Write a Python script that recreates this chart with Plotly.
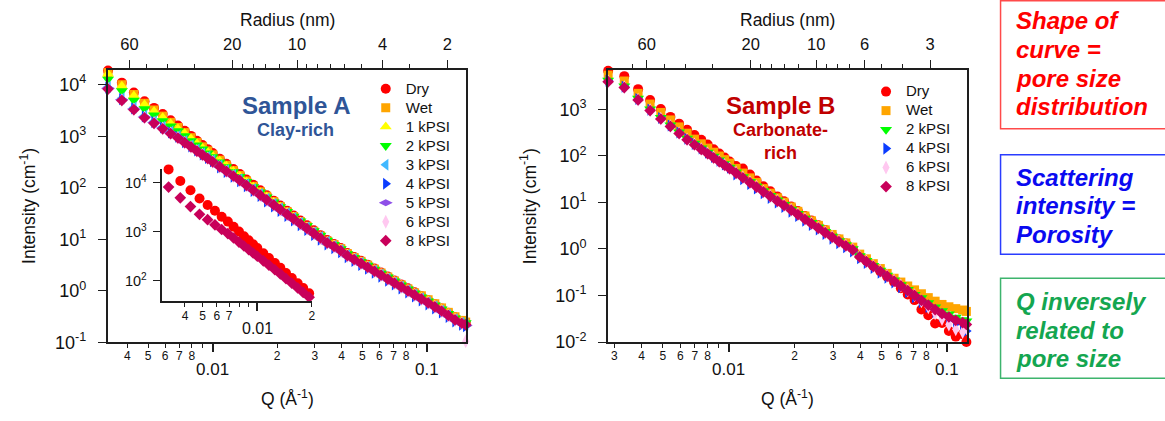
import numpy as np
import plotly.graph_objects as go

W, H = 1165, 421

# ---------------- data ----------------
# Sample A (clay-rich): Q in 1/Angstrom, values are log10 of intensity (1/cm)
q_a = [0.00325, 0.00377, 0.00429, 0.00481, 0.00533, 0.00585, 0.00637, 0.00689, 0.00741, 0.00793,
       0.00845, 0.00897, 0.00949, 0.01001,
       0.0108, 0.0116, 0.0125, 0.0134, 0.0144, 0.0155, 0.0167, 0.0179, 0.0193, 0.0207,
       0.0223, 0.0239, 0.0257, 0.0276, 0.0297, 0.0319, 0.0343, 0.0369, 0.0397, 0.0426,
       0.0458, 0.0493, 0.053, 0.057, 0.0612, 0.0658, 0.0707, 0.076, 0.0817, 0.0878,
       0.0944, 0.1015, 0.1091, 0.1173, 0.1261, 0.1355, 0.1457, 0.152]

a_dry = [4.275, 4.040, 3.850, 3.680, 3.550, 3.430, 3.310, 3.210, 3.106, 3.007, 2.913, 2.829, 2.750, 2.674,
         2.565, 2.466, 2.364, 2.268, 2.162, 2.058, 1.952, 1.855, 1.750, 1.655, 1.555, 1.462, 1.364, 1.271,
         1.174, 1.081, 0.986, 0.910, 0.830, 0.733, 0.658, 0.583, 0.508, 0.432, 0.356, 0.279, 0.202, 0.125,
         0.048, -0.029, -0.106, -0.183, -0.260, -0.341, -0.427, -0.513, -0.584, -0.616]
a_wet = [4.235, 4.000, 3.810, 3.640, 3.510, 3.390, 3.270, 3.170, 3.071, 2.972, 2.878, 2.794, 2.715, 2.639,
         2.535, 2.436, 2.334, 2.238, 2.132, 2.028, 1.922, 1.835, 1.730, 1.635, 1.535, 1.442, 1.344, 1.251,
         1.154, 1.061, 0.966, 0.900, 0.820, 0.723, 0.648, 0.573, 0.498, 0.422, 0.346, 0.269, 0.192, 0.115,
         0.038, -0.039, -0.096, -0.173, -0.250, -0.331, -0.417, -0.503, -0.574, -0.606]
a_1k = [4.210, 3.975, 3.785, 3.615, 3.485, 3.365, 3.245, 3.145, 3.051, 2.952, 2.858, 2.774, 2.695, 2.619,
        2.520, 2.421, 2.319, 2.223, 2.117, 2.013, 1.907, 1.825, 1.720, 1.625, 1.525, 1.432, 1.334, 1.241,
        1.144, 1.051, 0.956, 0.890, 0.810, 0.713, 0.638, 0.563, 0.488, 0.412, 0.336, 0.259, 0.182, 0.105,
        0.028, -0.049, -0.126, -0.203, -0.280, -0.361, -0.447, -0.533, -0.604, -0.636]
a_2k = [4.105, 3.880, 3.696, 3.529, 3.410, 3.299, 3.194, 3.106, 3.006, 2.912, 2.828, 2.749, 2.670, 2.599,
        2.500, 2.406, 2.309, 2.218, 2.117, 2.018, 1.917, 1.817, 1.720, 1.630, 1.535, 1.446, 1.352, 1.261,
        1.166, 1.075, 0.981, 0.895, 0.815, 0.718, 0.643, 0.568, 0.493, 0.417, 0.341, 0.264, 0.187, 0.110,
        0.033, -0.044, -0.121, -0.198, -0.275, -0.356, -0.442, -0.528, -0.594, -0.621]
a_3k = [3.955, 3.735, 3.556, 3.399, 3.290, 3.184, 3.089, 3.006, 2.906, 2.822, 2.743, 2.669, 2.600, 2.534,
        2.430, 2.341, 2.249, 2.163, 2.067, 1.973, 1.877, 1.787, 1.690, 1.600, 1.505, 1.416, 1.322, 1.231,
        1.136, 1.045, 0.951, 0.870, 0.790, 0.693, 0.618, 0.543, 0.468, 0.392, 0.316, 0.239, 0.162, 0.085,
        0.008, -0.069, -0.146, -0.223, -0.300, -0.381, -0.467, -0.553, -0.619, -0.646]
a_4k = [3.940, 3.720, 3.541, 3.384, 3.275, 3.169, 3.074, 2.991, 2.886, 2.802, 2.723, 2.649, 2.580, 2.514,
        2.395, 2.306, 2.214, 2.128, 2.032, 1.938, 1.842, 1.737, 1.640, 1.550, 1.455, 1.366, 1.272, 1.181,
        1.086, 0.995, 0.901, 0.830, 0.750, 0.653, 0.578, 0.503, 0.428, 0.352, 0.276, 0.199, 0.122, 0.045,
        -0.032, -0.109, -0.186, -0.263, -0.340, -0.421, -0.507, -0.593, -0.659, -0.686]
a_5k = [3.930, 3.710, 3.531, 3.374, 3.265, 3.159, 3.064, 2.981, 2.881, 2.797, 2.718, 2.644, 2.575, 2.509,
        2.405, 2.316, 2.224, 2.138, 2.042, 1.948, 1.852, 1.752, 1.655, 1.565, 1.470, 1.381, 1.287, 1.196,
        1.101, 1.010, 0.916, 0.845, 0.765, 0.668, 0.593, 0.518, 0.443, 0.367, 0.291, 0.214, 0.137, 0.060,
        -0.017, -0.094, -0.171, -0.248, -0.325, -0.406, -0.492, -0.578, -0.644, -0.671]
a_6k = [3.920, 3.700, 3.521, 3.364, 3.255, 3.149, 3.054, 2.971, 2.876, 2.792, 2.713, 2.639, 2.570, 2.504,
        2.405, 2.316, 2.224, 2.138, 2.042, 1.948, 1.852, 1.762, 1.665, 1.575, 1.480, 1.391, 1.297, 1.206,
        1.111, 1.020, 0.926, 0.855, 0.775, 0.678, 0.603, 0.528, 0.453, 0.377, 0.301, 0.224, 0.147, 0.070,
        -0.007, -0.084, -0.161, -0.238, -0.315, -0.396, -0.482, -0.568, -0.634, -0.980]
a_8k = [3.915, 3.695, 3.516, 3.359, 3.250, 3.144, 3.049, 2.966, 2.876, 2.792, 2.713, 2.639, 2.570, 2.504,
        2.410, 2.321, 2.229, 2.143, 2.047, 1.953, 1.857, 1.767, 1.670, 1.580, 1.485, 1.396, 1.302, 1.211,
        1.116, 1.025, 0.931, 0.860, 0.780, 0.683, 0.608, 0.533, 0.458, 0.382, 0.306, 0.229, 0.152, 0.075,
        -0.002, -0.079, -0.156, -0.233, -0.310, -0.391, -0.477, -0.563, -0.629, -0.656]

# Sample B (carbonate-rich)
q_b = [0.00281, 0.00333, 0.00385, 0.00437, 0.00489, 0.00541, 0.00593, 0.00645, 0.00697, 0.00749,
       0.00801, 0.00853, 0.00905, 0.00957, 0.01009,
       0.0108, 0.0116, 0.0125, 0.0134, 0.0144, 0.0155, 0.0167, 0.0179, 0.0193, 0.0207,
       0.0223, 0.0239, 0.0257, 0.0276, 0.0297, 0.0319, 0.0343, 0.0369, 0.0397, 0.0426,
       0.0458, 0.0493, 0.053, 0.057, 0.0612, 0.0658, 0.0707, 0.076, 0.0817, 0.0878,
       0.0944, 0.1015, 0.1091, 0.1173, 0.122]

b_dry = [3.826, 3.709, 3.430, 3.195, 3.005, 2.835, 2.690, 2.560, 2.445, 2.342, 2.244, 2.142, 2.050, 1.962, 1.878,
         1.779, 1.729, 1.596, 1.469, 1.346, 1.237, 1.127, 1.023, 0.912, 0.813, 0.708, 0.609, 0.507, 0.406, 0.302,
         0.206, 0.120, 0.020, -0.140, -0.251, -0.365, -0.480, -0.594, -0.708, -0.840, -0.974, -1.097, -1.300,
         -1.420, -1.600, -1.590, -1.760, -1.880, -1.830, -1.995]
b_wet = [3.730, 3.605, 3.340, 3.110, 2.930, 2.770, 2.620, 2.485, 2.357, 2.257, 2.164, 2.077, 1.995, 1.917, 1.843,
         1.729, 1.629, 1.526, 1.429, 1.296, 1.197, 1.097, 1.003, 0.902, 0.808, 0.708, 0.604, 0.507, 0.411, 0.312,
         0.216, 0.130, 0.040, -0.110, -0.211, -0.315, -0.420, -0.524, -0.628, -0.710, -0.794, -0.877, -0.961,
         -1.044, -1.120, -1.190, -1.240, -1.280, -1.310, -1.340]
b_2k = [3.620, 3.495, 3.230, 3.000, 2.820, 2.660, 2.510, 2.375, 2.267, 2.167, 2.074, 1.987, 1.905, 1.827, 1.753,
        1.649, 1.549, 1.446, 1.349, 1.246, 1.147, 1.047, 0.953, 0.852, 0.758, 0.658, 0.564, 0.467, 0.371, 0.272,
        0.176, 0.090, 0.000, -0.150, -0.251, -0.355, -0.460, -0.564, -0.668, -0.770, -0.874, -0.977, -1.051,
        -1.154, -1.250, -1.330, -1.400, -1.470, -1.520, -1.550]
b_4k = [3.610, 3.485, 3.220, 2.990, 2.810, 2.650, 2.500, 2.365, 2.257, 2.157, 2.064, 1.977, 1.895, 1.817, 1.743,
        1.599, 1.499, 1.396, 1.299, 1.196, 1.097, 0.997, 0.903, 0.802, 0.708, 0.608, 0.514, 0.417, 0.321, 0.222,
        0.126, 0.040, -0.050, -0.200, -0.301, -0.405, -0.510, -0.614, -0.718, -0.820, -0.924, -1.037, -1.141,
        -1.244, -1.350, -1.440, -1.520, -1.600, -1.680, -1.760]
b_6k = [3.595, 3.470, 3.205, 2.975, 2.795, 2.635, 2.485, 2.350, 2.242, 2.142, 2.049, 1.962, 1.880, 1.802, 1.728,
        1.634, 1.534, 1.431, 1.334, 1.231, 1.132, 1.032, 0.938, 0.837, 0.743, 0.643, 0.549, 0.452, 0.356, 0.257,
        0.161, 0.075, -0.015, -0.165, -0.266, -0.370, -0.475, -0.579, -0.683, -0.785, -0.889, -0.992, -1.120,
        -1.250, -1.380, -1.500, -1.620, -1.720, -1.780, -1.700]
b_8k = [3.590, 3.465, 3.200, 2.970, 2.790, 2.630, 2.480, 2.345, 2.237, 2.137, 2.044, 1.957, 1.875, 1.797, 1.723,
        1.629, 1.529, 1.426, 1.329, 1.226, 1.127, 1.027, 0.933, 0.832, 0.738, 0.638, 0.544, 0.447, 0.351, 0.252,
        0.156, 0.070, -0.020, -0.170, -0.271, -0.375, -0.480, -0.584, -0.688, -0.790, -0.894, -0.997, -1.101,
        -1.204, -1.300, -1.390, -1.460, -1.530, -1.580, -1.620]

inset_count = 23          # sample A points repeated in the inset (Q < 0.02)
radius_nm_times_q = 0.25  # radius (nm) = 0.25 / Q (1/Angstrom), for the top axes

# tick labels
y_a_ticks = [0.1, 1, 10, 100, 1000, 10000]
y_a_text = ["10<sup>-1</sup>", "10<sup>0</sup>", "10<sup>1</sup>", "10<sup>2</sup>", "10<sup>3</sup>", "10<sup>4</sup>"]
y_b_ticks = [0.01, 0.1, 1, 10, 100, 1000]
y_b_text = ["10<sup>-2</sup>", "10<sup>-1</sup>", "10<sup>0</sup>", "10<sup>1</sup>", "10<sup>2</sup>", "10<sup>3</sup>"]
y_in_ticks = [100, 1000, 10000]
y_in_text = ["10<sup>2</sup>", "10<sup>3</sup>", "10<sup>4</sup>"]

qa_ticks = [0.004, 0.005, 0.006, 0.007, 0.008, 0.009, 0.02, 0.03, 0.04, 0.05, 0.06, 0.07, 0.08, 0.09]
qa_text = ["4", "5", "6", "7", "8", "", "2", "3", "4", "5", "6", "7", "8", ""]
qb_ticks = [0.003, 0.004, 0.005, 0.006, 0.007, 0.008, 0.009, 0.02, 0.03, 0.04, 0.05, 0.06, 0.07, 0.08, 0.09]
qb_text = ["3", "4", "5", "6", "7", "8", "", "2", "3", "4", "5", "6", "7", "8", ""]
qin_ticks = [0.004, 0.005, 0.006, 0.007, 0.008, 0.009, 0.02]
qin_text = ["4", "5", "6", "7", "", "", "2"]
q_major = [0.01, 0.1]
q_major_text = ["0.01", "0.1"]

ra_ticks = [60, 20, 10, 4, 2]
ra_minor = [50, 40, 30, 18, 16, 14, 12, 9, 8, 7, 6, 5, 3]
rb_ticks = [60, 20, 10, 6, 3]
rb_minor = [70, 50, 40, 30, 18, 16, 14, 12, 9, 8, 7, 5, 4]

# ---------------- styling ----------------
FONT = "Liberation Sans, Arial, sans-serif"
AXC = "#1e1e1e"

styles = {
    "Dry": dict(symbol="circle", color="#FF0000", size=10),
    "Wet": dict(symbol="square", color="#FFA500", size=9),
    "1 kPSI": dict(symbol="triangle-up", color="#FFFF00", size=10.5),
    "2 kPSI": dict(symbol="triangle-down", color="#00FF00", size=10.5),
    "3 kPSI": dict(symbol="triangle-left", color="#40B8FF", size=10.5),
    "4 kPSI": dict(symbol="triangle-right", color="#0A3CFF", size=10.5),
    "5 kPSI": dict(symbol="diamond-wide", color="#8E4FE8", size=10),
    "6 kPSI": dict(symbol="diamond-tall", color="#FFC8F0", size=10),
    "8 kPSI": dict(symbol="diamond", color="#C8005A", size=9),
}

series_a = [("Dry", a_dry), ("Wet", a_wet), ("1 kPSI", a_1k), ("2 kPSI", a_2k), ("3 kPSI", a_3k),
            ("4 kPSI", a_4k), ("5 kPSI", a_5k), ("6 kPSI", a_6k), ("8 kPSI", a_8k)]
series_b = [("Dry", b_dry), ("Wet", b_wet), ("2 kPSI", b_2k), ("4 kPSI", b_4k), ("6 kPSI", b_6k), ("8 kPSI", b_8k)]


def px_x(px):
    return px / W


def px_y(py):
    return 1 - py / H


def legend_name(name):
    return "<span style='font-size:15px'>" + name + "</span>"


def mk(name):
    st = styles[name]
    return dict(symbol=st["symbol"], color=st["color"], size=st["size"], line=dict(width=0))


fig = go.Figure()

for name, vals in series_a:
    fig.add_trace(go.Scatter(x=q_a, y=10 ** np.array(vals), mode="markers", name=legend_name(name),
                             marker=mk(name), xaxis="x", yaxis="y", legend="legend", cliponaxis=False,
                             hoverinfo="skip"))

for name, vals in [("Dry", a_dry), ("8 kPSI", a_8k)]:
    fig.add_trace(go.Scatter(x=q_a[:inset_count], y=10 ** np.array(vals[:inset_count]), mode="markers",
                             name=name, showlegend=False, marker=mk(name), xaxis="x5", yaxis="y3",
                             cliponaxis=False, hoverinfo="skip"))

for name, vals in series_b:
    fig.add_trace(go.Scatter(x=q_b, y=10 ** np.array(vals), mode="markers", name=legend_name(name),
                             marker=mk(name), xaxis="x3", yaxis="y2", legend="legend2", cliponaxis=False,
                             hoverinfo="skip"))

# invisible companions that carry the radius (top) axes
for q, vals, xa, ya in [(q_a, a_8k, "x2", "y"), (q_b, b_8k, "x4", "y2")]:
    fig.add_trace(go.Scatter(x=radius_nm_times_q / np.array(q), y=10 ** np.array(vals), mode="markers",
                             marker=dict(opacity=0, size=1), showlegend=False, hoverinfo="skip",
                             xaxis=xa, yaxis=ya))


def base_axis(**kw):
    d = dict(type="log", showline=True, linecolor=AXC, linewidth=1.6, ticks="outside", tickcolor=AXC,
             tickwidth=1.3, showgrid=False, zeroline=False, tickfont=dict(family=FONT, size=12, color="#111"))
    d.update(kw)
    return d


YDOM = [px_y(350.7), px_y(72)]
minor_q = dict(tickmode="array", tickvals=q_major, ticklen=8, ticks="outside", tickcolor=AXC, tickwidth=1.5)

layout = dict(
    width=W, height=H, margin=dict(l=0, r=0, t=0, b=0),
    paper_bgcolor="white", plot_bgcolor="rgba(0,0,0,0)",
    font=dict(family=FONT, color="#111"),
    # ---- Sample A ----
    xaxis=base_axis(domain=[px_x(108), px_x(468)], anchor="y", range=[-2.490, -0.8148],
                    tickmode="array", tickvals=qa_ticks, ticktext=qa_text, ticklen=4,
                    ticklabelstandoff=-3, minor=minor_q),
    xaxis2=base_axis(overlaying="x", side="top", anchor="y", range=[1.8799, 0.213],
                     tickmode="array", tickvals=ra_ticks, ticktext=[str(v) for v in ra_ticks], ticklen=8,
                     ticklabelstandoff=4, tickfont=dict(family=FONT, size=16.5, color="#111"),
                     minor=dict(tickmode="array", tickvals=ra_minor, ticklen=4, ticks="outside",
                                tickcolor=AXC, tickwidth=1.2)),
    yaxis=base_axis(domain=YDOM, anchor="x", range=[-1, 4.28], mirror=True,
                    tickmode="array", tickvals=y_a_ticks, ticktext=y_a_text, ticklen=8,
                    ticklabelstandoff=8, tickfont=dict(family=FONT, size=18, color="#111")),
    # ---- Sample B ----
    xaxis3=base_axis(domain=[px_x(610), px_x(970)], anchor="y2", range=[-2.5525, -0.9123],
                     tickmode="array", tickvals=qb_ticks, ticktext=qb_text, ticklen=4,
                     ticklabelstandoff=-3, minor=minor_q),
    xaxis4=base_axis(overlaying="x3", side="top", anchor="y2", range=[1.9567, 0.3092],
                     tickmode="array", tickvals=rb_ticks, ticktext=[str(v) for v in rb_ticks], ticklen=8,
                     ticklabelstandoff=4, tickfont=dict(family=FONT, size=16.5, color="#111"),
                     minor=dict(tickmode="array", tickvals=rb_minor, ticklen=4, ticks="outside",
                                tickcolor=AXC, tickwidth=1.2)),
    yaxis2=base_axis(domain=YDOM, anchor="x3", range=[-2.004, 3.835], mirror=True,
                     tickmode="array", tickvals=y_b_ticks, ticktext=y_b_text, ticklen=8,
                     ticklabelstandoff=8, tickfont=dict(family=FONT, size=18, color="#111")),
    # ---- inset ----
    xaxis5=base_axis(domain=[px_x(163), px_x(313)], anchor="y3", range=[-2.522, -1.699],
                     tickmode="array", tickvals=qin_ticks, ticktext=qin_text, ticklen=5,
                     ticklabelstandoff=-2,
                     minor=dict(tickmode="array", tickvals=[0.01], ticklen=9, ticks="outside",
                                tickcolor=AXC, tickwidth=1.5)),
    yaxis3=base_axis(domain=[px_y(308), px_y(173)], anchor="x5", range=[1.598, 4.285],
                     tickmode="array", tickvals=y_in_ticks, ticktext=y_in_text, ticklen=8,
                     ticklabelstandoff=3, tickfont=dict(family=FONT, size=14.5, color="#111")),
    legend=dict(x=px_x(367), y=px_y(76), xanchor="left", yanchor="top", bgcolor="rgba(0,0,0,0)",
                font=dict(family=FONT, size=12.3, color="#111"), tracegroupgap=0),
    legend2=dict(x=px_x(869), y=px_y(79), xanchor="left", yanchor="top", bgcolor="rgba(0,0,0,0)",
                 font=dict(family=FONT, size=12.3, color="#111"), tracegroupgap=0),
)
fig.update_layout(**layout)

ann = []
# major Q labels
for xr in ["x", "x3"]:
    for v, t in zip(q_major, q_major_text):
        ann.append(dict(x=np.log10(v), xref=xr, y=px_y(378), yref="paper", text=t, showarrow=False,
                        font=dict(family=FONT, size=17, color="#111"), xanchor="center", yanchor="middle"))
ann.append(dict(x=np.log10(q_major[0]), xref="x5", y=px_y(337), yref="paper", text=q_major_text[0],
                showarrow=False, font=dict(family=FONT, size=16, color="#111"), xanchor="center", yanchor="middle"))

# axis titles
for cx, icx in [(288, 28), (790, 530)]:
    ann.append(dict(x=px_x(cx), y=px_y(20), xref="paper", yref="paper", text="Radius (nm)", showarrow=False,
                    font=dict(family=FONT, size=17.5, color="#111"), xanchor="center", yanchor="middle"))
    ann.append(dict(x=px_x(cx), y=px_y(408), xref="paper", yref="paper", text="Q (Å<sup>-1</sup>)",
                    showarrow=False, font=dict(family=FONT, size=17.5, color="#111"),
                    xanchor="center", yanchor="middle"))
    ann.append(dict(x=px_x(icx), y=px_y(211), xref="paper", yref="paper", text="Intensity (cm<sup>-1</sup>)",
                    showarrow=False, textangle=-90, font=dict(family=FONT, size=17.5, color="#111"),
                    xanchor="center", yanchor="middle"))

# sample labels
for txt, cx, cy, size, col in [("Sample A", 297, 108, 24, "#2F5597"), ("Clay-rich", 297, 133, 18, "#2F5597"),
                               ("Sample B", 783, 108, 24, "#C00000"), ("Carbonate-", 783, 133, 18, "#C00000"),
                               ("rich", 783, 157, 18, "#C00000")]:
    ann.append(dict(x=px_x(cx), y=px_y(cy), xref="paper", yref="paper", text="<b>" + txt + "</b>",
                    showarrow=False, font=dict(family=FONT, size=size, color=col),
                    xanchor="center", yanchor="middle"))

# note boxes
notes = [
    (["Shape of", "curve =", "pore size", "distribution"], "#FF0000", "#FF4A4A", 0.8, 132, 21.5),
    (["Scattering", "intensity =", "Porosity"], "#0A0AF0", "#2A3CFF", 158.5, 260.5, 181.5),
    (["Q inversely", "related to", "pore size"], "#14A650", "#3DB46D", 285, 387.5, 309),
]
shapes = []
for lines, tcol, bcol, y0, y1, yfirst in notes:
    shapes.append(dict(type="rect", xref="paper", yref="paper", x0=px_x(1004), x1=px_x(1175),
                       y0=px_y(y0), y1=px_y(y1), line=dict(color=bcol, width=1.5), fillcolor="rgba(0,0,0,0)"))
    for i, line in enumerate(lines):
        ann.append(dict(x=px_x(1017), y=px_y(yfirst + 29.3 * i), xref="paper", yref="paper",
                        text="<b><i>" + line + "</i></b>", showarrow=False, align="left",
                        xanchor="left", yanchor="middle", font=dict(family=FONT, size=24, color=tcol)))

fig.update_layout(annotations=ann, shapes=shapes)

fig.write_html("out.html", config={"displayModeBar": False},
               post_script="document.body.style.margin='0';")
